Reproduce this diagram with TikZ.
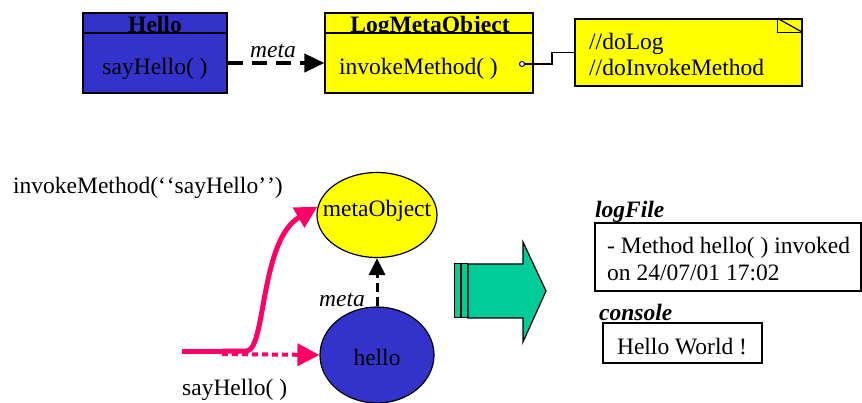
\documentclass[tikz,border=0pt]{standalone}
\usepackage{fontspec}
\setmainfont{Liberation Serif}
\usetikzlibrary{arrows.meta,shapes.geometric}
\definecolor{helloblue}{RGB}{51,51,204}
\definecolor{metayellow}{RGB}{255,255,0}
\definecolor{callpink}{RGB}{255,0,102}
\definecolor{flowgreen}{RGB}{0,204,153}
\tikzset{
  txt/.style={font=\fontsize{23.5}{26}\selectfont,inner sep=0pt},
  boldtxt/.style={font=\fontsize{23.5}{26}\selectfont\bfseries,inner sep=0pt},
  ittxt/.style={font=\fontsize{23.5}{26}\selectfont\itshape,inner sep=0pt},
  labeltxt/.style={font=\fontsize{23.5}{26}\selectfont\bfseries\itshape,inner sep=0pt},
  box/.style={draw,line width=1.2pt,inner sep=0pt},
  oval/.style={ellipse,draw,line width=1.2pt,inner sep=0pt},
  metalink/.style={line width=4pt,dash pattern=on 15pt off 9pt,-{Triangle[length=20pt,width=18pt]}},
  call/.style={callpink,line width=5pt},
  calltip/.style={-{Triangle[length=22pt,width=22pt]}},
}
\begin{document}
\begin{tikzpicture}[x=1pt,y=-1pt]
\useasboundingbox (0,0) rectangle (862,403);
% class diagram
\node[box,fill=helloblue,minimum width=144pt,minimum height=20pt] (hellohead) at (155,23) {};
\node[boldtxt,anchor=base] (helloname) at (155,33) {Hello};
\node[box,fill=helloblue,minimum width=144pt,minimum height=60pt] (hellobody) at (155,63) {};
\node[txt,anchor=base] (hellomethod) at (155,75) {sayHello( )};
\node[box,fill=metayellow,minimum width=208pt,minimum height=20pt] (loghead) at (429,23) {};
\node[boldtxt,anchor=base] (logname) at (430,33) {LogMetaObject};
\node[box,fill=metayellow,minimum width=208pt,minimum height=60pt] (logbody) at (429,63) {};
\node[txt,anchor=base west] (logmethod) at (339,75) {invokeMethod( )};
\node[circle,draw,fill=white,line width=1pt,minimum size=5pt,inner sep=0pt] (logport) at (522,64) {};
\draw[metalink] (hellobody.east) -- (logbody.west);
\node[ittxt,anchor=base] (metatop) at (273,58) {meta};
% note
\node[box,fill=metayellow,minimum width=227pt,minimum height=67pt] (note) at (688.5,52.5) {};
\draw[line width=1.2pt] ([xshift=-25pt]note.north east) |- ([yshift=-14pt]note.north east);
\draw[line width=1.2pt] ([xshift=-25pt]note.north east) -- ([yshift=-14pt]note.north east);
\node[txt,anchor=base west] (notelog) at (589,50) {//doLog};
\node[txt,anchor=base west] (noteinvoke) at (589,76) {//doInvokeMethod};
\draw[line width=1.2pt] (logport.east) -- (552,64) |- (note.west);
% objects
\node[oval,fill=metayellow,minimum width=120pt,minimum height=85pt] (metaobj) at (377,215) {};
\node[txt,anchor=base] (metaobjname) at (377,217) {metaObject};
\node[oval,fill=helloblue,minimum width=114pt,minimum height=96pt] (hello) at (377,355) {};
\node[txt,anchor=base] (helloname2) at (377,365) {hello};
\draw[line width=3pt,dash pattern=on 9pt off 5pt,-{Triangle[length=17pt,width=16pt]}] (hello.north) -- (metaobj.south);
\node[ittxt,anchor=base east] (metabottom) at (365,306) {meta};
% calls
\coordinate (callstart) at (182,351);
\coordinate (callsplit) at (222,351);
\coordinate (callturn) at (247,351);
\coordinate (calldot) at (222,354);
\draw[call] (callstart) -- (callsplit);
\draw[call,line width=4pt,dash pattern=on 6pt off 4pt,calltip] (calldot) -- (hello.west);
\draw[call,calltip] (callsplit) -- (callturn) .. controls (266,348) and (260,240) .. (metaobj.172);
\node[txt,anchor=base west] (invokelabel) at (13,194) {invokeMethod(\textquoteleft\kern1pt\textquoteleft sayHello\textquoteright\kern1pt\textquoteright)};
\node[txt,anchor=base west] (saylabel) at (182,395) {sayHello( )};
% result arrow
\draw[fill=flowgreen,line width=1.2pt] (468,264) -- (523,264) -- (523,242) -- (546,291) -- (523,342) -- (523,318) -- (468,318) -- cycle;
\draw[fill=flowgreen,line width=1pt] (454.5,264) rectangle (460,318) (461.5,264) rectangle (467,318);
% outputs
\node[labeltxt,anchor=base west] (logfilelabel) at (595,218) {logFile};
\node[box,minimum width=266pt,minimum height=68pt] (logbox) at (728,257) {};
\node[txt,anchor=base west] (logline) at (607,254) {- Method hello( ) invoked};
\node[txt,anchor=base west] (logdate) at (607,281) {on 24/07/01 17:02};
\node[labeltxt,anchor=base west] (consolelabel) at (599,320) {console};
\node[box,minimum width=159pt,minimum height=40pt] (consolebox) at (682.5,343) {};
\node[txt,anchor=base] (consoletext) at (682,354) {Hello World !};
\end{tikzpicture}
\end{document}
